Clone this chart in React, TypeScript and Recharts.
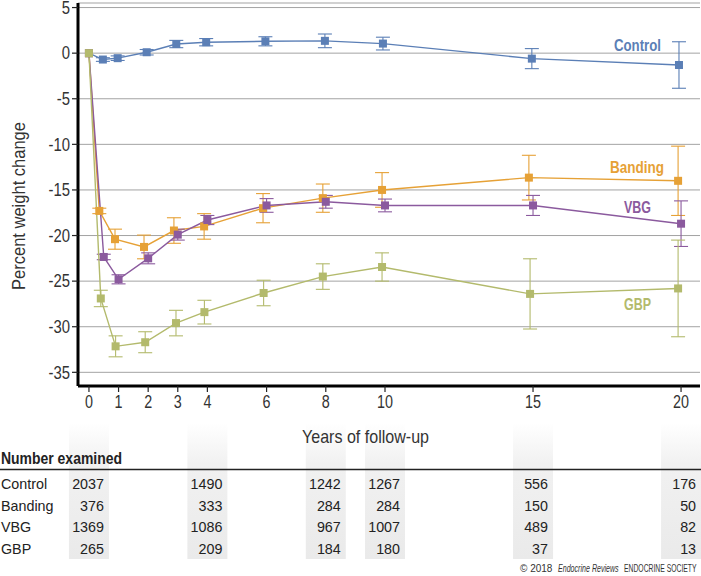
import React from "react";
import { LineChart, Line, XAxis, YAxis, CartesianGrid, ErrorBar } from "recharts";

const FONT = "'Liberation Sans', Arial, sans-serif";

// Series values (x = years of follow-up, y = percent weight change, err = error bar half-length)
const controlYears = [0, 0.47, 0.97, 1.95, 2.95, 3.96, 5.96, 7.97, 9.93, 14.96, 19.93];
const controlChange = [0, -0.7, -0.55, 0.1, 1.0, 1.2, 1.3, 1.35, 1.05, -0.6, -1.3];
const controlErr = [0, 0.2, 0.25, 0.3, 0.4, 0.4, 0.5, 0.75, 0.7, 1.1, 2.55];

const bandingYears = [0, 0.35, 0.88, 1.86, 2.87, 3.89, 5.88, 7.9, 9.9, 14.86, 19.9];
const bandingChange = [0, -17.3, -20.4, -21.25, -19.45, -19.0, -17.0, -15.9, -15.0, -13.65, -14.0];
const bandingErr = [0, 0.3, 1.1, 1.3, 1.4, 1.4, 1.6, 1.55, 1.9, 2.45, 3.8];

const vbgYears = [0, 0.5, 1.0, 2.0, 3.0, 4.0, 6.0, 8.0, 10.0, 15.0, 20.0];
const vbgChange = [0, -22.35, -24.8, -22.5, -19.9, -18.3, -16.7, -16.3, -16.7, -16.7, -18.7];
const vbgErr = [0, 0.3, 0.5, 0.6, 0.6, 0.5, 0.75, 0.7, 0.7, 1.1, 2.5];

const gbpYears = [0, 0.4, 0.9, 1.9, 2.94, 3.9, 5.9, 7.9, 9.9, 14.9, 19.9];
const gbpChange = [0, -26.9, -32.15, -31.7, -29.6, -28.4, -26.3, -24.5, -23.45, -26.4, -25.8];
const gbpErr = [0, 0.9, 1.15, 1.15, 1.4, 1.3, 1.4, 1.4, 1.55, 3.85, 5.3];

// Axis ticks
const xTicks = [0, 1, 2, 3, 4, 6, 8, 10, 15, 20];
const yTicks = [5, 0, -5, -10, -15, -20, -25, -30, -35];

// Number examined table
const tableYears = [0, 4, 8, 10, 15, 20];
const tableGroups = ["Control", "Banding", "VBG", "GBP"];
const controlN = [2037, 1490, 1242, 1267, 556, 176];
const bandingN = [376, 333, 284, 284, 150, 50];
const vbgN = [1369, 1086, 967, 1007, 489, 82];
const gbpN = [265, 209, 184, 180, 37, 13];

const COLORS = {
  Control: "#5b7fb6",
  Banding: "#e6a136",
  VBG: "#8b5a9e",
  GBP: "#b3ba6c",
};

const build = (xs: number[], ys: number[], es: number[]) =>
  xs.map((x, i) => ({ x, y: ys[i], err: es[i] }));

const controlData = build(controlYears, controlChange, controlErr);
const bandingData = build(bandingYears, bandingChange, bandingErr);
const vbgData = build(vbgYears, vbgChange, vbgErr);
const gbpData = build(gbpYears, gbpChange, gbpErr);
const tableRows = [controlN, bandingN, vbgN, gbpN];

const squareDot = (color: string) => (props: any) => {
  const { cx, cy, index } = props;
  if (cx == null || cy == null) return <g key={`d-${index}`} />;
  return <rect key={`d-${index}`} x={cx - 4} y={cy - 4} width={8} height={8} fill={color} />;
};

// condensed text via horizontal scaling
const CText = ({ x, y, anchor = "start", size, sx = 0.82, weight = "normal", fill = "#333", italic = false, children }: any) => (
  <text
    transform={`translate(${x},${y}) scale(${sx},1)`}
    textAnchor={anchor}
    fontSize={size}
    fontWeight={weight}
    fontStyle={italic ? "italic" : "normal"}
    fill={fill}
    fontFamily={FONT}
  >
    {children}
  </text>
);

const XTick = (props: any) => {
  const { x, y, payload } = props;
  const v = payload.value;
  const col = tableYears.indexOf(v);
  return (
    <g>
      {col >= 0 && <rect x={x - 20} y={y + 29} width={40} height={136} fill="url(#shade)" />}
      <CText x={x} y={y + 14} anchor="middle" size={17.5} sx={0.82}>
        {v}
      </CText>
      {col >= 0 &&
        tableRows.map((row, r) => (
          <text
            key={r}
            x={x + 15}
            y={y + 95 + r * 21.7}
            textAnchor="end"
            fill="#222"
            fontSize={14.3}
            fontFamily={FONT}
          >
            {row[col]}
          </text>
        ))}
    </g>
  );
};

const YTick = (props: any) => {
  const { x, y, payload } = props;
  return (
    <CText x={x} y={y + 6.3} anchor="end" size={17.5} sx={0.85}>
      {payload.value}
    </CText>
  );
};

export default function App() {
  return (
    <div style={{ position: "absolute", left: 0, top: 0, width: 701, height: 576, background: "#fff" }}>
      <LineChart width={701} height={576} margin={{ top: 3, right: 1, bottom: 0, left: 0 }}>
        <defs>
          <linearGradient id="shade" x1="0" y1="0" x2="0" y2="1">
            <stop offset="0" stopColor="#ffffff" stopOpacity={1} />
            <stop offset="0.3" stopColor="#f1f1f1" stopOpacity={1} />
            <stop offset="1" stopColor="#eaeaea" stopOpacity={1} />
          </linearGradient>
        </defs>
        <CartesianGrid horizontal vertical={false} stroke="#a3a3a3" strokeWidth={1} />
        <XAxis
          type="number"
          dataKey="x"
          domain={[-0.37, 20.64]}
          allowDataOverflow
          ticks={xTicks}
          interval={0}
          height={190}
          tickSize={6}
          tickMargin={2}
          axisLine={{ stroke: "#000", strokeWidth: 3 }}
          tickLine={{ stroke: "#222", strokeWidth: 1.2 }}
          tick={<XTick />}
        />
        <YAxis
          type="number"
          domain={[-36.5, 5.5]}
          allowDataOverflow
          ticks={yTicks}
          interval={0}
          width={78}
          tickSize={6}
          tickMargin={2}
          axisLine={{ stroke: "#000", strokeWidth: 3 }}
          tickLine={{ stroke: "#222", strokeWidth: 1.2 }}
          tick={<YTick />}
        />
        <Line
          data={controlData}
          dataKey="y"
          stroke={COLORS.Control}
          strokeWidth={1.4}
          dot={squareDot(COLORS.Control)}
          isAnimationActive={false}
        >
          <ErrorBar dataKey="err" width={7} stroke={COLORS.Control} strokeWidth={1.1} direction="y" />
        </Line>
        <Line
          data={bandingData}
          dataKey="y"
          stroke={COLORS.Banding}
          strokeWidth={1.4}
          dot={squareDot(COLORS.Banding)}
          isAnimationActive={false}
        >
          <ErrorBar dataKey="err" width={7} stroke={COLORS.Banding} strokeWidth={1.1} direction="y" />
        </Line>
        <Line
          data={vbgData}
          dataKey="y"
          stroke={COLORS.VBG}
          strokeWidth={1.4}
          dot={squareDot(COLORS.VBG)}
          isAnimationActive={false}
        >
          <ErrorBar dataKey="err" width={7} stroke={COLORS.VBG} strokeWidth={1.1} direction="y" />
        </Line>
        <Line
          data={gbpData}
          dataKey="y"
          stroke={COLORS.GBP}
          strokeWidth={1.4}
          dot={squareDot(COLORS.GBP)}
          isAnimationActive={false}
        >
          <ErrorBar dataKey="err" width={7} stroke={COLORS.GBP} strokeWidth={1.1} direction="y" />
        </Line>
      </LineChart>
      <svg
        width={701}
        height={576}
        style={{ position: "absolute", left: 0, top: 0, pointerEvents: "none" }}
        fontFamily={FONT}
      >
        <text
          transform="translate(25,206) rotate(-90)"
          textAnchor="middle"
          fontSize={18.5}
          fill="#333"
          textLength={168}
          lengthAdjust="spacingAndGlyphs"
        >
          Percent  weight change
        </text>
        <text x={302} y={443} fontSize={18.5} fill="#333" textLength={127} lengthAdjust="spacingAndGlyphs">
          Years of follow-up
        </text>
        <text x={614} y={51} fontSize={16.5} fontWeight="bold" fill={COLORS.Control} textLength={47} lengthAdjust="spacingAndGlyphs">
          Control
        </text>
        <text x={610} y={173} fontSize={16.5} fontWeight="bold" fill={COLORS.Banding} textLength={54} lengthAdjust="spacingAndGlyphs">
          Banding
        </text>
        <text x={624} y={213} fontSize={16.5} fontWeight="bold" fill={COLORS.VBG} textLength={27} lengthAdjust="spacingAndGlyphs">
          VBG
        </text>
        <text x={624} y={310} fontSize={16.5} fontWeight="bold" fill={COLORS.GBP} textLength={27} lengthAdjust="spacingAndGlyphs">
          GBP
        </text>
        <text x={1} y={464} fontSize={16} fontWeight="bold" fill="#222" textLength={121} lengthAdjust="spacingAndGlyphs">
          Number examined
        </text>
        <line x1={0} x2={701} y1={469.5} y2={469.5} stroke="#222" strokeWidth={1.5} />
        {tableGroups.map((g, r) => (
          <text key={g} x={1} y={489 + r * 21.7} fontSize={14.3} fill="#222">
            {g}
          </text>
        ))}
        <CText x={520} y={572} size={10} sx={1.0}>© 2018</CText>
        <CText x={558} y={572} size={10} sx={0.71} italic>Endocrine Reviews</CText>
        <CText x={624} y={572} size={10} sx={0.68}>ENDOCRINE SOCIETY</CText>
      </svg>
    </div>
  );
}
